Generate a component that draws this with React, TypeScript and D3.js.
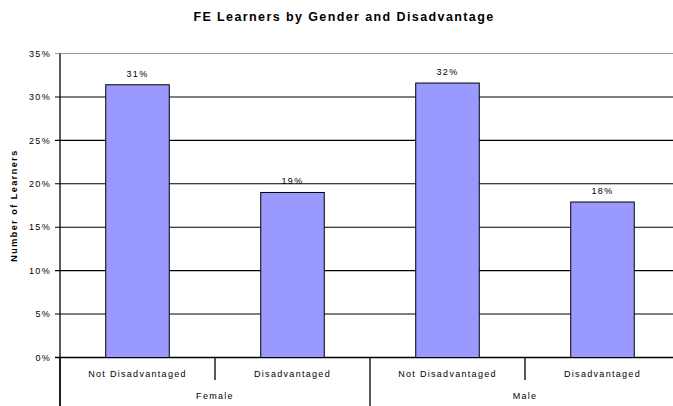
import * as d3 from "d3";

const groups = ["Female", "Male"];
const categories = ["Not Disadvantaged", "Disadvantaged"];
const values = [31.4, 19.0, 31.6, 17.9];
const labels = ["31%", "19%", "32%", "18%"];
const yTicks = [0, 5, 10, 15, 20, 25, 30, 35];

export default function App() {
    const width = 673;
    const height = 406;
    const left = 60;
    const top = 53.5;
    const bottom = 357.5;
    const font = "'Liberation Sans', Arial, sans-serif";
    const ls = 1.3; // the reference text is spaced out wide

    // one band per bar, the groups take two bands each
    const keys = groups.flatMap((g) => categories.map((c) => g + "|" + c));
    const x = d3.scaleBand().domain(keys).range([left, 680]);
    const y = d3.scaleLinear().domain([0, 35]).range([bottom, top]);
    const barW = x.bandwidth() * 0.41;

    return (
        <div style={{ position: "absolute", left: 0, top: 0 }}>
            <svg width={width} height={height} style={{ display: "block", background: "#fff" }}>
                <text x={344} y={21} textAnchor="middle" fontFamily={font} fontSize={12.5} fontWeight="bold" letterSpacing={1.4}>
                    FE Learners by Gender and Disadvantage
                </text>

                {/* grid */}
                {yTicks.map((t) => (
                    <g key={t}>
                        <line
                            x1={left - 5}
                            x2={width}
                            y1={y(t)}
                            y2={y(t)}
                            stroke={t === 35 ? "#999" : "#000"}
                            strokeWidth={t === 0 ? 1.3 : 1.1}
                        />
                        <text x={left - 9} y={y(t)} dy="0.35em" textAnchor="end" fontFamily={font} fontSize={9} letterSpacing={ls}>
                            {t}%
                        </text>
                    </g>
                ))}

                {/* bars */}
                {keys.map((k, i) => {
                    const cx = (x(k) as number) + x.bandwidth() / 2;
                    return (
                        <g key={k}>
                            <rect
                                x={cx - barW / 2}
                                y={y(values[i])}
                                width={barW}
                                height={bottom - y(values[i])}
                                fill="#9999ff"
                                stroke="#000"
                                strokeWidth={1}
                            />
                            <text x={cx} y={y(values[i]) - 8} textAnchor="middle" fontFamily={font} fontSize={9} letterSpacing={ls}>
                                {labels[i]}
                            </text>
                            <text x={cx} y={377} textAnchor="middle" fontFamily={font} fontSize={9} letterSpacing={ls}>
                                {k.split("|")[1]}
                            </text>
                        </g>
                    );
                })}

                {/* category dividers */}
                {keys.map((k, i) => {
                    const bx = x(k) as number;
                    const isGroup = i % 2 === 0;
                    return (
                        <line key={"d" + k} x1={bx} x2={bx} y1={bottom} y2={isGroup ? 406 : 380} stroke="#000" strokeWidth={1.3} />
                    );
                })}

                {groups.map((g, gi) => {
                    const a = x(keys[gi * 2]) as number;
                    const cx = a + x.bandwidth();
                    return (
                        <text key={g} x={cx} y={399} textAnchor="middle" fontFamily={font} fontSize={9} letterSpacing={ls}>
                            {g}
                        </text>
                    );
                })}

                {/* y axis */}
                <line x1={left} x2={left} y1={top} y2={406} stroke="#000" strokeWidth={1.3} />

                <text
                    transform={`translate(17, ${(top + bottom) / 2}) rotate(-90)`}
                    textAnchor="middle"
                    fontFamily={font}
                    fontSize={9}
                    fontWeight="bold"
                    letterSpacing={1.5}
                >
                    Number of Learners
                </text>
            </svg>
        </div>
    );
}
